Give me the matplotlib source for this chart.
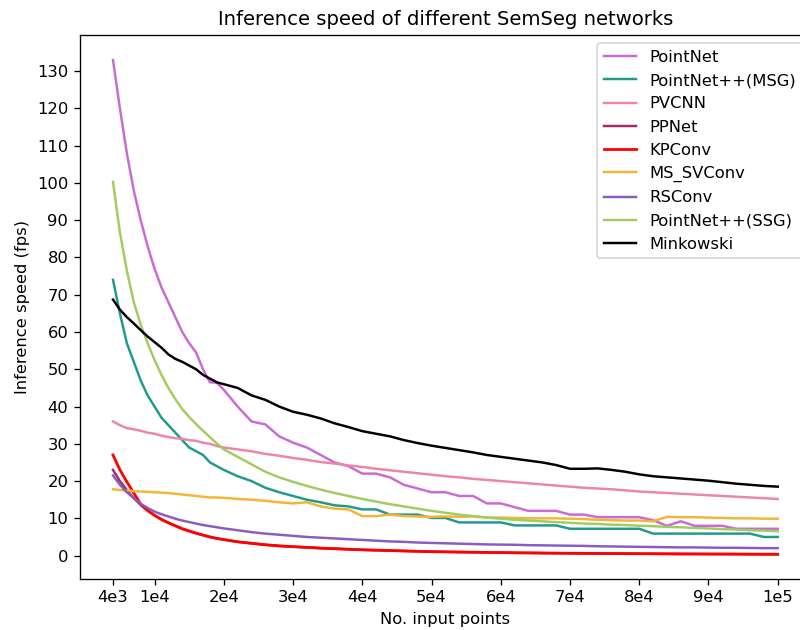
import numpy as np
import matplotlib
matplotlib.use("Agg")
import matplotlib.pyplot as plt

# number of input points: every 1000 up to 2e4, then every 2000 up to 1e5
n_points = list(range(4000, 20001, 1000)) + list(range(22000, 100001, 2000))

pointnet = [133, 120, 108, 98, 90, 83, 77, 72, 68, 64, 60, 57, 54.5, 50, 46.5, 46.4, 44.5,
            40, 36, 35.2, 32, 30.3, 29, 27, 25, 24,
            22, 22, 21, 19, 18, 17, 17, 16, 16, 14, 14, 13, 12, 12, 12, 11, 11, 10.3,
            10.3, 10.3, 10.3, 9.5, 8, 9.2, 8, 8, 8, 7.2, 7.2, 7.2, 7.2]
pointnet_msg = [74, 65, 57, 52, 47, 43, 40, 37, 35, 33, 31, 29, 28, 27, 25, 24, 23,
                21.3, 20, 18.2, 17, 16, 15, 14.3, 13.5,
                13.2, 12.4, 12.4, 11, 11, 11, 10.1, 10.1, 8.9, 8.9, 8.9, 8.9, 8.1, 8.1,
                8.1, 8.1, 7.2, 7.2, 7.2, 7.2, 7.2, 7.2, 5.9, 5.9, 5.9, 5.9, 5.9, 5.9, 5.9,
                5.9, 5, 5]
pvcnn = [36, 35, 34.2, 33.9, 33.5, 33, 32.7, 32.2, 31.8, 31.5, 31.3, 31, 30.8, 30.3, 30,
         29.4, 29,
         28.5, 28, 27.3, 26.8, 26.2, 25.7,
         25.1, 24.7, 24.2, 23.8, 23.3, 22.9, 22.5, 22.1, 21.7, 21.3, 21, 20.6, 20.3, 20,
         19.7, 19.4, 19.1, 18.8, 18.5, 18.2, 18, 17.8, 17.5, 17.2, 17, 16.8, 16.6, 16.4,
         16.2, 16, 15.8, 15.6, 15.4, 15.2]
ppnet = [23, 20, 17.6, 15.4, 13.6, 12.1, 10.8, 9.7, 8.8, 8, 7.2, 6.6, 6.0, 5.5, 5.0, 4.6,
         4.3,
         3.7, 3.3, 2.9, 2.6, 2.4, 2.2, 2.0,
         1.85, 1.7, 1.55, 1.45, 1.35, 1.25, 1.15, 1.05, 1.0, 0.95, 0.9, 0.85, 0.8, 0.75,
         0.72, 0.68, 0.65, 0.62, 0.6, 0.57, 0.55, 0.53, 0.51, 0.49, 0.47, 0.45, 0.44, 0.42,
         0.41, 0.4, 0.38, 0.37, 0.36]
kpconv = [27, 23, 19.8, 16.8, 13.8, 12.1, 10.8, 9.7, 8.8, 8, 7.2, 6.6, 6.0, 5.5, 5.0, 4.6,
          4.3,
          3.7, 3.3, 2.9, 2.6, 2.4, 2.2, 2.0,
          1.85, 1.7, 1.55, 1.45, 1.35, 1.25, 1.15, 1.05, 1.0, 0.95, 0.9, 0.85, 0.8, 0.75,
          0.72, 0.68, 0.65, 0.62, 0.6, 0.57, 0.55, 0.53, 0.51, 0.49, 0.47, 0.45, 0.44, 0.42,
          0.41, 0.4, 0.38, 0.37, 0.36]
ms_svconv = [17.8, 17.6, 17.5, 17.3, 17.2, 17.1, 17, 16.9, 16.8, 16.6, 16.4, 16.2, 16,
             15.8, 15.6, 15.6, 15.5,
             15.2, 15, 14.7, 14.3, 14,
             14.3, 13.2, 12.6, 12.4, 10.6, 10.6, 11, 10.6, 10.5, 10.4, 10.5, 10.4, 10.5,
             10.2, 10.2, 10.1, 10, 10, 10, 9.9, 9.8, 9.6, 9.5, 9.4, 9.4, 9.2, 10.4, 10.3,
             10.3, 10.2, 10.1, 10, 10, 9.9, 9.9]
rsconv = [21.5, 19, 17, 15.4, 13.9, 12.8, 11.8, 11.1, 10.5, 9.9, 9.4, 9, 8.6, 8.2, 7.9,
          7.6, 7.3,
          6.8, 6.3, 5.9, 5.6, 5.3, 5.0,
          4.8, 4.6, 4.4, 4.2, 4.0, 3.8, 3.7, 3.5, 3.4, 3.3, 3.2, 3.1, 3.0, 2.95, 2.9, 2.8,
          2.75, 2.7, 2.65, 2.6, 2.5, 2.45, 2.4, 2.35, 2.3, 2.25, 2.2, 2.2, 2.15, 2.1, 2.1,
          2.05, 2.0, 2.0]
pointnet_ssg = [100.3, 86.7, 76.5, 68, 62, 57, 52.5, 48.5, 45, 42, 39.3, 37.2, 35.3, 33.5,
                31.8, 30.1, 28.5,
                26.5, 24.5, 22.5, 21, 19.8,
                18.7, 17.7, 16.8, 16, 15.2, 14.5, 13.8, 13.2, 12.6, 12, 11.5, 11, 10.6,
                10.2, 9.9, 9.6, 9.4, 9.2, 9, 8.8, 8.6, 8.5, 8.3, 8.2, 8.0, 7.9, 7.7, 7.6,
                7.4, 7.3, 7.1, 7.0, 6.8, 6.7, 6.5]
minkowski = [68.7, 66, 64, 62.3, 60.5, 58.8, 57.3, 55.8, 54, 52.8, 52, 51, 50, 48.5, 47.5,
             46.5, 46,
             45, 43, 41.8, 40, 38.6, 37.8, 36.8, 35.5, 34.5, 33.4, 32.7, 32, 31, 30.2,
             29.5, 28.9, 28.3, 27.7, 27, 26.5, 26,
             25.5, 25, 24.3, 23.3, 23.3, 23.4, 23, 22.5, 21.8, 21.3, 21, 20.7, 20.4, 20.1,
             19.7, 19.3, 19, 18.7, 18.5]

tick_pos = [4000, 10000, 20000, 30000, 40000, 50000, 60000, 70000, 80000, 90000, 100000]
tick_lbl = ["4e3", "1e4", "2e4", "3e4", "4e4", "5e4", "6e4", "7e4", "8e4", "9e4", "1e5"]

fig = plt.figure(figsize=(800 / 118, 630 / 118), dpi=118)
ax = fig.add_axes([0.0997, 0.081, 0.914, 0.863])

ax.plot(n_points, pointnet, color="#c96bd2", lw=1.5, label="PointNet")
ax.plot(n_points, pointnet_msg, color="#229a8a", lw=1.5, label="PointNet++(MSG)")
ax.plot(n_points, pvcnn, color="#ee84a8", lw=1.5, label="PVCNN")
ax.plot(n_points, ppnet, color="#a02a6a", lw=1.5, label="PPNet")
ax.plot(n_points, kpconv, color="#ff0000", lw=1.7, label="KPConv")
ax.plot(n_points, ms_svconv, color="#f2b535", lw=1.5, label="MS_SVConv")
ax.plot(n_points, rsconv, color="#8a5cc0", lw=1.5, label="RSConv")
ax.plot(n_points, pointnet_ssg, color="#a0cd60", lw=1.5, label="PointNet++(SSG)")
ax.plot(n_points, minkowski, color="black", lw=1.5, label="Minkowski")

ax.set_xticks(tick_pos)
ax.set_xticklabels(tick_lbl)
ax.set_yticks(np.arange(0, 131, 10))
ax.set_title("Inference speed of different SemSeg networks")
ax.set_xlabel("No. input points")
ax.set_ylabel("Inference speed (fps)")
ax.legend(loc="upper right")

fig.savefig("out.png", dpi=118)
